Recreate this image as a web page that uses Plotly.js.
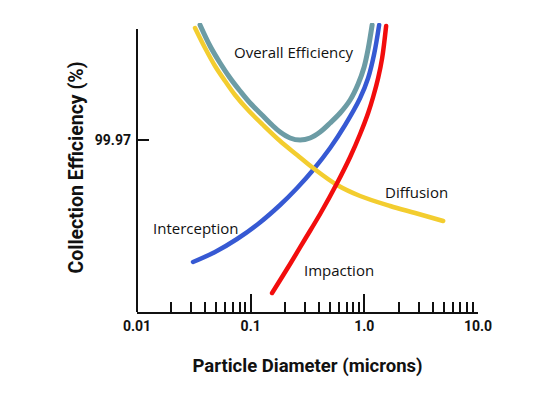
<!DOCTYPE html>
<html>
<head>
<meta charset="utf-8">
<script src="https://cdn.plot.ly/plotly-3.0.1.min.js"></script>
<style>
html,body{margin:0;padding:0;background:#fff;}
#chart{width:550px;height:395px;}
.scatterlayer .js-line{stroke-linecap:round;}
</style>
</head>
<body>
<div id="chart"></div>
<script>
// Particle diameter (microns) and relative collection efficiency (schematic units)
var overallX = [0.03586, 0.04392, 0.05379, 0.06587, 0.08067, 0.09879, 0.1286, 0.1543, 0.1815, 0.2223, 0.2722, 0.3333, 0.4083, 0.4999, 0.6123, 0.7499, 0.8817, 0.996, 1.08, 1.171];
var overallY = [287, 266, 249, 234, 221, 209, 196, 187, 180, 174, 172, 174, 180, 189, 199, 212, 228, 245, 263, 287];

var diffusionX = [0.0324, 0.03969, 0.0486, 0.05952, 0.0729, 0.09487, 0.1286, 0.1815, 0.2562, 0.3541, 0.5763, 0.9184, 1.687, 2.8, 4.939];
var diffusionY = [284, 264, 246, 231, 217, 202, 187, 171, 157, 144, 127, 116, 106, 99, 91];

var interceptionX = [0.03111, 0.0486, 0.07591, 0.1162, 0.1815, 0.2562, 0.3541, 0.4999, 0.6776, 0.9184, 1.08, 1.22, 1.35];
var interceptionY = [50, 60, 73, 88, 107, 124, 142, 164, 187, 214, 234, 258, 287];

var impactionX = [0.1543, 0.2223, 0.3012, 0.4083, 0.5763, 0.7499, 0.9184, 1.08, 1.195, 1.323, 1.435, 1.555];
var impactionY = [19, 48, 73, 98, 129, 155, 178, 199, 215, 234, 254, 286];

var majorTickVals = [0.01, 0.1, 1, 10];
var majorTickText = ['0.01', '0.1', '1.0', '10.0'];
var minorTickVals = [0.02,0.03,0.04,0.05,0.06,0.07,0.08,0.09,0.2,0.3,0.4,0.5,0.6,0.7,0.8,0.9,2,3,4,5,6,7,8,9];
var yTickVals = [172];
var yTickText = ['99.97'];

var labelText = ['Overall Efficiency', 'Diffusion', 'Interception', 'Impaction'];
var labelX = [0.241, 2.86, 0.033, 0.600];
var labelY = [260, 120, 84, 42];

function curve(x, y, color, width, name) {
  return {x: x, y: y, mode: 'lines', name: name,
          line: {color: color, width: width, shape: 'spline', smoothing: 1, simplify: false}};
}

var traces = [
  curve(interceptionX, interceptionY, '#3659D3', 4.5, 'Interception'),
  curve(diffusionX, diffusionY, '#F3CD2F', 4.5, 'Diffusion'),
  curve(impactionX, impactionY, '#F20D0D', 4.5, 'Impaction'),
  curve(overallX, overallY, '#6C9CA5', 5, 'Overall Efficiency')
];

function bold(size) { return {family: 'Roboto, Arial, sans-serif', weight: 'bold', color: '#111', size: size}; }

var yTop = 289, yAxisTop = 283;

var layout = {
  width: 550, height: 395,
  margin: {l: 137, r: 72, t: 23, b: 83},
  paper_bgcolor: '#fff', plot_bgcolor: '#fff',
  showlegend: false,
  xaxis: {
    type: 'log', range: [-2, 1],
    showline: true, linecolor: '#111', linewidth: 2,
    ticks: 'inside', ticklen: 18, tickwidth: 2, tickcolor: '#111',
    tickmode: 'array', tickvals: majorTickVals, ticktext: majorTickText,
    minor: {tickmode: 'array', tickvals: minorTickVals, ticks: 'inside', ticklen: 10, tickwidth: 2, tickcolor: '#111', showgrid: false},
    showgrid: false, zeroline: false,
    tickfont: bold(14),
    title: {text: 'Particle Diameter (microns)', font: bold(18.5), standoff: 26}
  },
  yaxis: {
    range: [0, yTop],
    showline: false,
    ticks: 'inside', ticklen: 12, tickwidth: 2, tickcolor: '#111',
    tickmode: 'array', tickvals: yTickVals, ticktext: yTickText,
    ticklabelstandoff: 5,
    showgrid: false, zeroline: false,
    tickfont: bold(14),
    title: {text: 'Collection Efficiency (%)', font: bold(19.5), standoff: 5}
  },
  shapes: [
    {type: 'line', xref: 'paper', yref: 'paper', x0: 0, x1: 0, y0: 0, y1: yAxisTop / yTop, line: {color: '#111', width: 2}}
  ],
  annotations: labelText.map(function (t, i) {
    return {text: t, x: Math.log10(labelX[i]), y: labelY[i], xref: 'x', yref: 'y', showarrow: false,
            font: {family: 'Open Sans, Noto Sans, sans-serif', size: 15, color: '#111'}};
  })
};

Plotly.newPlot('chart', traces, layout, {displayModeBar: false, staticPlot: true});
</script>
</body>
</html>
